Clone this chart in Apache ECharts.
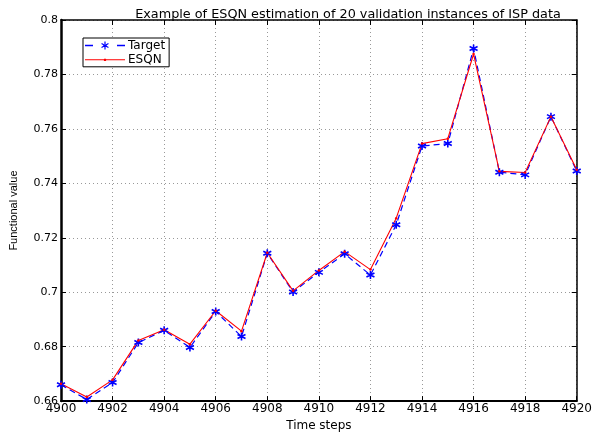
<!DOCTYPE html>
<html><head><meta charset="utf-8">
<script src="https://cdn.jsdelivr.net/npm/echarts@6/dist/echarts.min.js"></script>
<style>html,body{margin:0;padding:0;background:#fff}#c{width:595px;height:437px}</style>
</head><body><div id="c"></div>
<script>
const timeSteps = [4900,4901,4902,4903,4904,4905,4906,4907,4908,4909,4910,4911,4912,4913,4914,4915,4916,4917,4918,4919,4920];
const target = [0.6660,0.6606,0.6668,0.6815,0.6860,0.6797,0.6929,0.6837,0.7143,0.7001,0.7073,0.7141,0.7063,0.7248,0.7537,0.7546,0.7895,0.7441,0.7431,0.7645,0.7445];
const esqn   = [0.6664,0.6615,0.6678,0.6823,0.6862,0.6809,0.6932,0.6857,0.7145,0.7005,0.7080,0.7149,0.7083,0.7272,0.7546,0.7564,0.7875,0.7444,0.7440,0.7645,0.7450];
const xTicks = {min:4900,max:4920,interval:2};
const yTicks = {min:0.66,max:0.8,interval:0.02};

const font = 'DejaVu Sans, Liberation Sans, sans-serif';
const asterisk = 'path://M0,-5L0,5M-4.33,-2.5L4.33,2.5M-4.33,2.5L4.33,-2.5';
// legend icons (40 x 10 boxes)
const iconTarget = 'path://M0,4.3L8,4.3L8,5.7L0,5.7Z M32,4.3L40,4.3L40,5.7L32,5.7Z ' +
  'M19.4,1L20.6,1L20.6,9L19.4,9Z ' +
  'M16.24,3.52L23.16,7.52L23.76,6.48L16.84,2.48Z ' +
  'M16.84,7.52L23.76,3.52L23.16,2.48L16.24,6.48Z ' +
  'M0,0L0.01,0L0.01,0.01Z M39.99,10L40,10L40,9.99Z';
const iconEsqn = 'path://M0,4.45L40,4.45L40,5.55L0,5.55Z M18.9,3.9L21.1,3.9L21.1,6.1L18.9,6.1Z ' +
  'M0,0L0.01,0L0.01,0.01Z M39.99,10L40,10L40,9.99Z';

const chart = echarts.init(document.getElementById('c'));
const gridLine = {show:true,lineStyle:{color:'#999',type:[1,3],width:1}};
chart.setOption({
  animation:false,
  backgroundColor:'#fff',
  title:{text:'Example of ESQN estimation of 20 validation instances of ISP data',left:343,textAlign:'center',top:3,
    textStyle:{fontFamily:font,fontSize:12.8,fontWeight:'normal',color:'#000'}},
  legend:{left:83,top:38,orient:'vertical',itemGap:2.3,itemWidth:40,itemHeight:10,symbolKeepAspect:true,
    backgroundColor:'#fff',borderColor:'#000',borderWidth:1,padding:[1.5,4,1,2],
    textStyle:{fontFamily:font,fontSize:12,color:'#000',padding:[0,0,0,-2]},
    data:[{name:'Target',icon:iconTarget,itemStyle:{color:'#0000ff',borderWidth:0,borderColor:'transparent'}},
          {name:'ESQN',icon:iconEsqn,itemStyle:{color:'#ff0000',borderWidth:0,borderColor:'transparent'}}]},
  grid:{left:56,right:17,top:20,bottom:26},
  xAxis:[{type:'value',min:xTicks.min,max:xTicks.max,interval:xTicks.interval,
    name:'Time steps',nameLocation:'middle',nameGap:18,
    nameTextStyle:{fontFamily:font,fontSize:12,color:'#000'},
    axisLine:{show:true,lineStyle:{color:'#000',width:2}},
    axisTick:{show:true,inside:true,length:5,lineStyle:{color:'#000'}},
    axisLabel:{fontFamily:font,fontSize:12,color:'#000',margin:2,formatter:v=>String(v)},
    splitLine:gridLine},
   {type:'value',position:'top',min:xTicks.min,max:xTicks.max,interval:xTicks.interval,
    axisLine:{show:true,lineStyle:{color:'#000',width:1.5}},
    axisTick:{show:true,inside:true,length:5,lineStyle:{color:'#000'}},
    axisLabel:{show:false},splitLine:{show:false}}],
  yAxis:[{type:'value',min:yTicks.min,max:yTicks.max,interval:yTicks.interval,
    name:'Functional value',nameLocation:'middle',nameGap:42,nameRotate:90,
    nameTextStyle:{fontFamily:'Liberation Sans Narrow, Liberation Sans, sans-serif',fontSize:11,color:'#000'},
    axisLine:{show:true,lineStyle:{color:'#000',width:2.5}},
    axisTick:{show:true,inside:true,length:5,lineStyle:{color:'#000'}},
    axisLabel:{fontFamily:font,fontSize:11,color:'#000',margin:3,formatter:v=>String(+v.toFixed(2))},
    splitLine:gridLine},
   {type:'value',position:'right',min:yTicks.min,max:yTicks.max,interval:yTicks.interval,
    axisLine:{show:true,lineStyle:{color:'#000',width:1.5}},
    axisTick:{show:true,inside:true,length:5,lineStyle:{color:'#000'}},
    axisLabel:{show:false},splitLine:{show:false}}],
  series:[
    {name:'Target',type:'line',data:timeSteps.map((t,i)=>[t,target[i]]),
     symbol:asterisk,symbolSize:8,showAllSymbol:true,
     lineStyle:{color:'#0000ff',width:1.2,type:[6,4]},
     itemStyle:{color:'#0000ff',borderColor:'#0000ff',borderWidth:1.6}},
    {name:'ESQN',type:'line',data:timeSteps.map((t,i)=>[t,esqn[i]]),
     symbol:'circle',symbolSize:2.5,showAllSymbol:true,
     lineStyle:{color:'#ff0000',width:1.1},
     itemStyle:{color:'#ff0000'}}
  ]
});
</script></body></html>
